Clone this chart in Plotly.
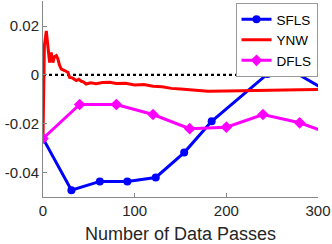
import plotly.graph_objects as go

sfls_x = [0, 31, 62, 92, 123, 154, 184, 245, 276, 307]
sfls_y = [-0.026, -0.0472, -0.0436, -0.0436, -0.042, -0.0318, -0.019, 0.0004, 0.0008, -0.006]

dfls_x = [0, 40, 80, 120, 160, 200, 240, 280, 320]
dfls_y = [-0.026, -0.0121, -0.0121, -0.0162, -0.022, -0.0214, -0.0162, -0.0196, -0.025]

ynw_x = [0, 1.5, 3.6, 5.5, 7.2, 9, 10.8, 12.5, 14.5, 16.3, 18, 20, 22, 23.6, 25.5, 27.2,
         29, 32, 36.3, 39, 41.8, 44, 47, 52, 58, 65, 72.6, 80, 90, 100, 110, 120,
         130, 140, 150, 165, 180, 200, 220, 240, 260, 280, 300]
ynw_y = [-0.026, 0.012, 0.018, 0.012, 0.0051, 0.0092, 0.0051, 0.0075, 0.0079, 0.0065,
         0.004, 0.0024, 0.0022, 0.0018, 0.0014, 0.0011, -0.001, -0.0012, -0.0023,
         -0.0018, -0.0026, -0.0028, -0.0037, -0.0032, -0.0036, -0.0031, -0.003,
         -0.0035, -0.0034, -0.0041, -0.0039, -0.0046, -0.0048, -0.0055, -0.0058,
         -0.0064, -0.0067, -0.0066, -0.0064, -0.0063, -0.0062, -0.0061, -0.006]

zero_x = [0, 300]
zero_y = [0, 0]

y_ticks = [0.02, 0, -0.02, -0.04]
y_labels = ["0.02", "0", "-0.02", "-0.04"]
x_ticks = [0, 100, 200, 300]

fig = go.Figure()
fig.add_trace(go.Scatter(x=zero_x, y=zero_y, mode="lines", showlegend=False,
                         line=dict(color="black", width=2.2, dash="dot")))
fig.add_trace(go.Scatter(x=sfls_x, y=sfls_y, mode="lines+markers", name="SFLS",
                         line=dict(color="#0000FF", width=3),
                         marker=dict(symbol="circle", size=8, color="#0000FF")))
fig.add_trace(go.Scatter(x=ynw_x, y=ynw_y, mode="lines", name="YNW",
                         line=dict(color="#FF0000", width=3)))
fig.add_trace(go.Scatter(x=dfls_x, y=dfls_y, mode="lines+markers", name="DFLS",
                         line=dict(color="#FF00FF", width=3),
                         marker=dict(symbol="diamond", size=9, color="#FF00FF")))

fig.update_layout(
    width=332, height=244,
    margin=dict(l=43, r=14, t=1, b=47),
    paper_bgcolor="white", plot_bgcolor="white",
    font=dict(family="Liberation Sans, Arial, sans-serif", size=15, color="#262626"),
    legend=dict(x=0.7, y=0.99, xanchor="left", yanchor="top",
                bgcolor="white", bordercolor="#999999", borderwidth=1,
                font=dict(size=13.5, color="black"),
                tracegroupgap=0, itemwidth=30),
    showlegend=True,
)
fig.update_xaxes(range=[0, 300], tickvals=x_ticks, ticks="inside", ticklen=4,
                 tickcolor="#888888", showline=True, linecolor="#888888", linewidth=1,
                 showgrid=False, zeroline=False, automargin=False,
                 title=dict(text="Number of Data Passes", font=dict(size=18), standoff=9))
fig.update_yaxes(range=[-0.05, 0.0303], tickvals=y_ticks, ticktext=y_labels,
                 ticks="inside", ticklen=4, tickcolor="#888888", automargin=False,
                 showline=True, linecolor="#888888", linewidth=1,
                 showgrid=False, zeroline=False)

fig.write_html("out.html", config={"displayModeBar": False},
               post_script="document.body.style.margin='0';")
